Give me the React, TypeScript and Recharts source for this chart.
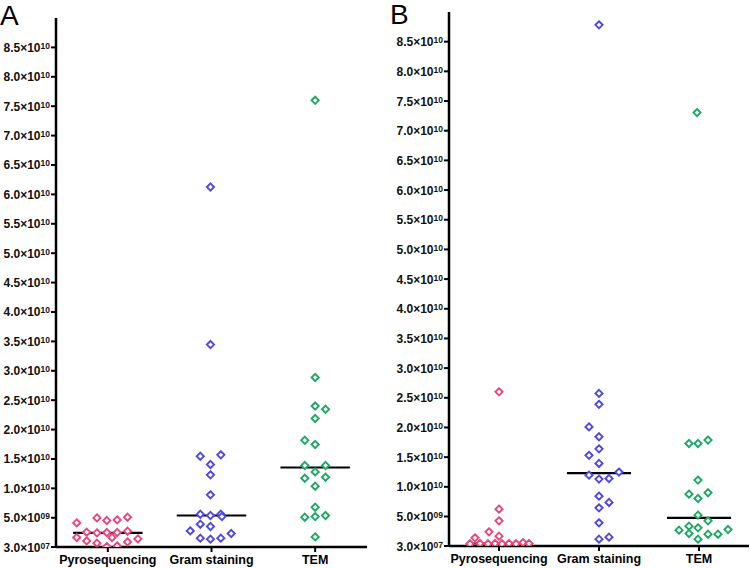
import React from 'react';
import { ScatterChart, Scatter, XAxis, YAxis, ReferenceLine } from 'recharts';

// ---- data (values in units of 1e9) ----
const categories = ['Pyrosequencing', 'Gram staining', 'TEM'];

const yTicks = [0.03, 5, 10, 15, 20, 25, 30, 35, 40, 45, 50, 55, 60, 65, 70, 75, 80, 85];
const yTickMantissa = ['3.0', '5.0', '1.0', '1.5', '2.0', '2.5', '3.0', '3.5', '4.0', '4.5', '5.0', '5.5', '6.0', '6.5', '7.0', '7.5', '8.0', '8.5'];
const yTickExponent = ['07', '09', '10', '10', '10', '10', '10', '10', '10', '10', '10', '10', '10', '10', '10', '10', '10', '10'];

// Panel A
const aPyroValues = [4.13, 4.98, 4.54, 4.64, 5.1, 2.55, 2.43, 2.5, 2.5, 2.72, 1.65, 1.65, 1.41, 1.07, 0.68, 0.1, 0.22, 0.9];
const aPyroJitter = [-0.3, -0.105, -0.01, 0.09, 0.19, -0.204, -0.105, -0.01, 0.09, 0.19, -0.3, 0.04, 0.29, -0.204, -0.105, -0.01, 0.09, 0.19];
const aGramValues = [61.25, 34.46, 15.47, 15.7, 14.06, 12.3, 8.9, 5.6, 5.39, 5.6, 5.2, 3.91, 3.52, 2.77, 2.33, 1.53, 1.36, 1.53];
const aGramJitter = [-0.01, -0.01, -0.108, 0.09, -0.01, -0.01, -0.01, -0.108, -0.01, 0.09, 0.1, -0.108, -0.01, -0.205, 0.19, -0.108, -0.01, 0.09];
const aTemValues = [76, 28.85, 24.0, 23.46, 21.88, 18.19, 17.46, 13.89, 13.89, 12.8, 11.73, 11.9, 10.37, 6.8, 5.1, 5.2, 5.39, 1.75];
const aTemJitter = [0, 0, 0, 0.1, 0, -0.1, 0, -0.1, 0.1, 0, -0.1, 0.1, 0, 0, -0.1, 0, 0.1, 0];
const aMedians = [2.43, 5.39, 13.55];

// Panel B
const bPyroValues = [26.0, 6.24, 4.27, 2.41, 1.69, 1.4, 0.4, 0.45, 0.4, 0.45, 0.4, 0.45, 0.4, 0.6, 0.45];
const bPyroJitter = [0, 0, 0, -0.1, 0, -0.24, -0.29, -0.19, -0.11, -0.04, 0.03, 0.1, 0.17, 0.24, 0.3];
const bGramValues = [87.84, 25.74, 23.9, 20.1, 18.43, 16.4, 15.3, 13.94, 11.97, 12.48, 11.3, 11.41, 8.43, 7.37, 6.46, 3.93, 1.18, 1.52];
const bGramJitter = [0, 0, 0, -0.1, 0, 0, -0.1, 0, -0.1, 0.2, 0, 0.1, 0, 0.1, 0, 0, 0, 0.1];
const bTemValues = [73.05, 17.3, 17.3, 17.87, 11.13, 8.77, 8.04, 9.0, 5.23, 4.27, 3.37, 3.09, 2.7, 2.14, 1.18, 2.02, 2.02, 2.81];
const bTemJitter = [-0.02, -0.1, -0.01, 0.09, -0.01, -0.1, -0.01, 0.09, -0.01, 0.09, -0.1, -0.01, -0.2, -0.1, -0.01, 0.09, 0.19, 0.29];
const bMedians = [0.45, 12.3, 4.77];

const colors = ['#e8467c', '#4f48e4', '#1ea866'];
const FONT = '"Liberation Sans", Arial, Helvetica, sans-serif';

const toPoints = (cat: number, values: number[], jitter: number[]) =>
  values.map((v, i) => ({ x: cat + 0.5 + jitter[i], y: v }));

const makeDiamond = (color: string) => (props: any) => {
  const { cx, cy } = props;
  if (cx == null || cy == null) return <g />;
  const r = 3.6;
  return (
    <path
      d={`M${cx},${cy - r}L${cx + r},${cy}L${cx},${cy + r}L${cx - r},${cy}Z`}
      fill="#fff"
      stroke={color}
      strokeWidth={1.9}
    />
  );
};

const YTick = (props: any) => {
  const { x, y, payload } = props;
  const i = yTicks.indexOf(payload.value);
  return (
    <text x={x} y={y + 4.5} textAnchor="end" fontFamily={FONT} fontWeight="bold" fontSize={12} fill="#111">
      <tspan>{yTickMantissa[i]}×10</tspan>
      <tspan dy={-3} fontSize={8.5}>{yTickExponent[i]}</tspan>
    </text>
  );
};

const Panel = ({ groups, medians, width, height, margin, yWidth, xHeight, medianHalf }: any) => (
  <ScatterChart width={width} height={height} margin={margin}>
    <XAxis
      type="number"
      dataKey="x"
      domain={[0, 3]}
      ticks={[0.5, 1.5, 2.5]}
      tickFormatter={(v: number) => categories[Math.round(v - 0.5)]}
      height={xHeight}
      axisLine={{ stroke: '#000', strokeWidth: 2.5 }}
      tickLine={{ stroke: '#000', strokeWidth: 2 }}
      tickSize={5}
      tickMargin={3}
      tick={{ fontFamily: FONT, fontWeight: 'bold', fontSize: 12.5, fill: '#000' }}
      allowDataOverflow
    />
    <YAxis
      type="number"
      dataKey="y"
      domain={[0.03, 90]}
      ticks={yTicks}
      interval={0}
      width={yWidth}
      axisLine={{ stroke: '#000', strokeWidth: 2.5 }}
      tickLine={{ stroke: '#000', strokeWidth: 2 }}
      tickSize={5}
      tickMargin={1}
      tick={<YTick />}
      allowDataOverflow
    />
    {groups.map((g: any, i: number) => (
      <Scatter key={i} data={g} shape={makeDiamond(colors[i])} isAnimationActive={false} />
    ))}
    {medians.map((m: number, i: number) => (
      <ReferenceLine
        key={'m' + i}
        segment={[{ x: i + 0.5 - medianHalf, y: m }, { x: i + 0.5 + medianHalf, y: m }]}
        stroke="#000"
        strokeWidth={2.2}
      />
    ))}
  </ScatterChart>
);

export default function App() {
  const aGroups = [
    toPoints(0, aPyroValues, aPyroJitter),
    toPoints(1, aGramValues, aGramJitter),
    toPoints(2, aTemValues, aTemJitter),
  ];
  const bGroups = [
    toPoints(0, bPyroValues, bPyroJitter),
    toPoints(1, bGramValues, bGramJitter),
    toPoints(2, bTemValues, bTemJitter),
  ];
  return (
    <div style={{ position: 'absolute', left: 0, top: 0, width: 750, height: 568, background: '#fff', overflow: 'hidden' }}>
      <div style={{ position: 'absolute', left: 0, top: 0 }}>
        <Panel
          groups={aGroups}
          medians={aMedians}
          width={375}
          height={568}
          margin={{ top: 18, right: 8, bottom: 0, left: 0 }}
          yWidth={56}
          xHeight={21}
          medianHalf={0.335}
        />
      </div>
      <div style={{ position: 'absolute', left: 375, top: 0 }}>
        <Panel
          groups={bGroups}
          medians={bMedians}
          width={375}
          height={568}
          margin={{ top: 12, right: 1, bottom: 0, left: 0 }}
          yWidth={74}
          xHeight={22}
          medianHalf={0.32}
        />
      </div>
      <svg width={750} height={40} style={{ position: 'absolute', left: 0, top: 0, pointerEvents: 'none' }}>
        <text x={0} y={25} fontFamily={FONT} fontSize={28} fill="#000">A</text>
        <text x={390} y={24} fontFamily={FONT} fontSize={28} fill="#000">B</text>
      </svg>
    </div>
  );
}
